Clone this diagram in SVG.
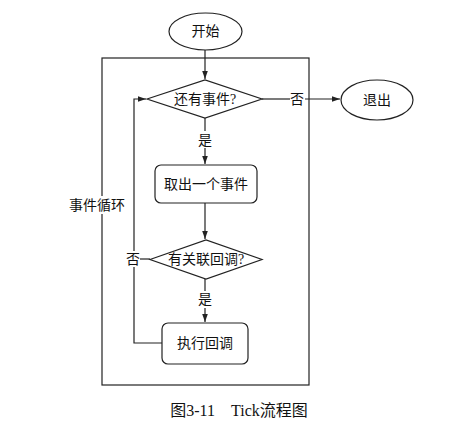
<svg xmlns="http://www.w3.org/2000/svg" width="470" height="435" viewBox="0 0 470 435">
<style>
.s{fill:#fff;stroke:#222;stroke-width:1.2}
.c{fill:none;stroke:#222;stroke-width:1.2}
.t{font-family:"Liberation Serif","Noto Sans CJK SC",serif;font-size:14px;fill:#111;text-anchor:middle;dominant-baseline:central}
.lb{fill:#fff;stroke:none}
</style>
<defs>
<marker id="a" viewBox="0 0 10 10" refX="10" refY="5" markerWidth="8" markerHeight="8" markerUnits="userSpaceOnUse" orient="auto">
<path d="M0,1.5L10,5L0,8.5z" fill="#222"/>
</marker>
</defs>
<rect x="0" y="0" width="470" height="435" fill="#fff"/>
<g id="loop-frame">
<rect x="102" y="58" width="207" height="327" class="c"/>
<rect x="66" y="196" width="62" height="18" class="lb"/>
<text x="97" y="205" class="t">事件循环</text>
</g>
<g id="connectors">
<path d="M205,50V79" class="c" marker-end="url(#a)"/>
<path d="M262,99H290" class="c"/>
<path d="M305,99H340" class="c" marker-end="url(#a)"/>
<path d="M205,118V131" class="c"/>
<path d="M205,148V164" class="c" marker-end="url(#a)"/>
<path d="M205,203V239" class="c" marker-end="url(#a)"/>
<path d="M205,279V291" class="c"/>
<path d="M205,308V322" class="c" marker-end="url(#a)"/>
<path d="M150,259H140" class="c"/>
<path d="M162,343H134V99H146" class="c" marker-end="url(#a)"/>
<rect x="126" y="251" width="14" height="16" class="lb"/>
<text x="133" y="259" class="t">否</text>
<text x="297" y="99" class="t">否</text>
<text x="205" y="140" class="t">是</text>
<text x="205" y="299" class="t">是</text>
</g>
<g id="start">
<ellipse cx="205.5" cy="31.5" rx="36.5" ry="18.5" class="s"/>
<text x="205.5" y="31.5" class="t">开始</text>
</g>
<g id="has-event">
<polygon points="147,99 205,80 262,99 205,118" class="s"/>
<text x="205" y="99" class="t">还有事件?</text>
</g>
<g id="exit">
<ellipse cx="377" cy="100" rx="36" ry="20" class="s"/>
<text x="377" y="100" class="t">退出</text>
</g>
<g id="take-event">
<rect x="155" y="165" width="102" height="38" rx="6" class="s"/>
<text x="206" y="184" class="t">取出一个事件</text>
</g>
<g id="has-callback">
<polygon points="150,259.5 206,240 262,259.5 206,279" class="s"/>
<text x="206" y="259.5" class="t">有关联回调?</text>
</g>
<g id="run-callback">
<rect x="162" y="323" width="86" height="41" rx="6" class="s"/>
<text x="205" y="343.5" class="t">执行回调</text>
</g>
<text x="239" y="410" class="t" style="font-size:16px" xml:space="preserve">图3-11    Tick流程图</text>
</svg>
